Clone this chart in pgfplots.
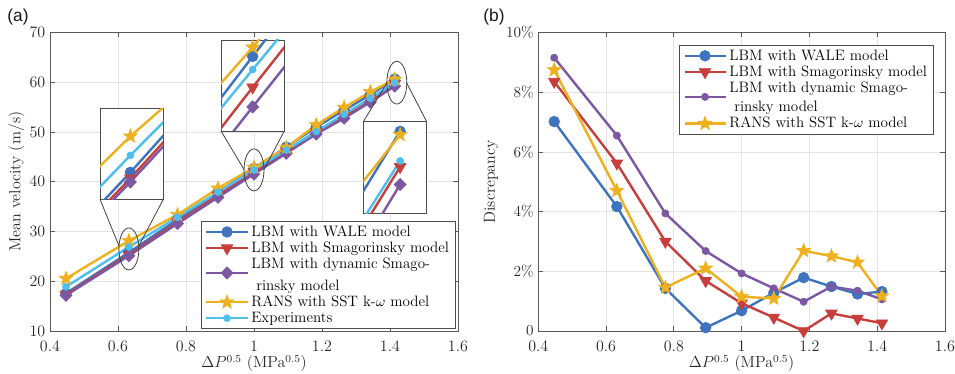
\documentclass[border=0pt]{standalone}
\usepackage{fontspec}
\newfontfamily\arialfont{Liberation Sans}
\usepackage{pgfplots}
\pgfplotsset{compat=1.18}
\usepackage{pgfplotstable}

\definecolor{cwale}{RGB}{62,116,190}
\definecolor{csmag}{RGB}{200,62,60}
\definecolor{cdyn}{RGB}{125,88,162}
\definecolor{crans}{RGB}{237,177,32}
\definecolor{cexp}{RGB}{77,190,238}

\newcommand\ticfont{\fontsize{11.5}{13.8}\selectfont}
\newcommand\labfont{\fontsize{12}{14}\selectfont}
\newcommand\legfont{\fontsize{11.3}{12.8}\selectfont}

\pgfdeclareplotmark{fstar}{%
  \pgfpathmoveto{\pgfpointpolar{90}{\pgfplotmarksize}}%
  \pgfpathlineto{\pgfpointpolar{126}{0.42\pgfplotmarksize}}%
  \pgfpathlineto{\pgfpointpolar{162}{\pgfplotmarksize}}%
  \pgfpathlineto{\pgfpointpolar{198}{0.42\pgfplotmarksize}}%
  \pgfpathlineto{\pgfpointpolar{234}{\pgfplotmarksize}}%
  \pgfpathlineto{\pgfpointpolar{270}{0.42\pgfplotmarksize}}%
  \pgfpathlineto{\pgfpointpolar{306}{\pgfplotmarksize}}%
  \pgfpathlineto{\pgfpointpolar{342}{0.42\pgfplotmarksize}}%
  \pgfpathlineto{\pgfpointpolar{18}{\pgfplotmarksize}}%
  \pgfpathlineto{\pgfpointpolar{54}{0.42\pgfplotmarksize}}%
  \pgfpathclose
  \pgfusepathqfillstroke
}

\pgfplotstableread{
x     wale  smag  dyn   rans  exp
0.447 17.57 17.32 17.17 20.55 18.9
0.632 25.78 25.39 25.14 28.16 26.9
0.775 32.43 31.91 31.60 33.38 32.9
0.894 37.86 37.26 36.88 38.70 37.9
1.000 42.69 42.01 41.58 42.89 42.4
1.095 46.99 46.19 45.74 46.91 46.4
1.183 51.00 50.10 49.61 51.45 50.1
1.265 54.40 53.28 52.80 54.95 53.6
1.342 57.50 56.56 56.03 58.11 56.8
1.414 60.69 59.74 59.27 60.60 59.9
}\vel

\pgfplotstableread{
x     wale smag dyn  rans
0.447 7.02 8.36 9.16 8.75
0.632 4.17 5.62 6.55 4.70
0.775 1.43 3.00 3.94 1.46
0.894 0.11 1.68 2.68 2.10
1.000 0.68 0.93 1.93 1.15
1.095 1.28 0.45 1.43 1.09
1.183 1.79 0.00 0.98 2.69
1.265 1.49 0.59 1.49 2.51
1.342 1.24 0.42 1.35 2.30
1.414 1.32 0.26 1.06 1.17
}\disc

\pgfplotsset{
  swale/.style={color=cwale, line width=1.8pt, mark=*, mark size=4pt, mark options={solid, line width=0.5pt}},
  ssmag/.style={color=csmag, line width=1.8pt, mark=triangle*, mark size=5pt, mark options={solid, line width=0.5pt, rotate=180}},
  sdyn/.style={color=cdyn, line width=1.8pt, mark=diamond*, mark size=4.6pt, mark options={solid, line width=0.5pt, xscale=1.3}},
  sdyns/.style={color=cdyn, line width=1.8pt, mark=*, mark size=2.7pt, mark options={solid, line width=0.5pt}},
  srans/.style={color=crans, line width=1.8pt, mark=fstar, mark size=5.4pt, mark options={solid, line width=0.5pt}},
  sexp/.style={color=cexp, line width=1.8pt, mark=*, mark size=2.6pt, mark options={solid, line width=0.5pt}},
  lowimg/.style={legend image code/.code={\draw[mark repeat=2, mark phase=2, yshift=-6.6pt] plot coordinates {(0pt,0pt) (15.4pt,0pt) (30.8pt,0pt)};}},
  base/.style={scale only axis, anchor=south west,
    axis line style={draw=black!65, line width=0.6pt},
    grid=major, grid style={draw=gray!22, line width=0.5pt},
    tick style={draw=black!65, line width=0.6pt}, major tick length=3.5pt, tick align=inside,
    ticklabel style={font=\ticfont, text=black!85},
    label style={font=\labfont, text=black!85},
    xticklabel style={/pgf/number format/fixed, yshift=-4pt},
    xlabel shift=-4pt,
    ylabel shift=-3pt,
    xmin=0.4, xmax=1.6, xtick={0.4,0.6,0.8,1,1.2,1.4,1.6},
    xlabel={$\Delta P^{0.5}$ (MPa$^{0.5}$)},
    legend cell align=left,
    legend image code/.code={\draw[mark repeat=2, mark phase=2] plot coordinates {(0pt,0pt) (15.4pt,0pt) (30.8pt,0pt)};},
  },
  inset/.style={scale only axis, anchor=south west, width=47.5pt, xtick=\empty, ytick=\empty,
    axis line style={draw=black!70, line width=0.7pt},
    axis background/.style={fill=white}},
}

\begin{document}
\begin{tikzpicture}
\path[use as bounding box] (0,0) rectangle (716.25pt,280.5pt);

% ---------- (a) ----------
\begin{axis}[base, at={(37.5pt,32.25pt)}, width=306pt, height=223.75pt,
  ymin=10, ymax=70, ytick={10,20,30,40,50,60,70},
  ylabel={Mean velocity (m/s)},
  legend style={at={(0.995,0.008)}, anchor=south east, draw=black!70, fill=white,
    font=\legfont, row sep=-1.4pt, inner xsep=3pt, inner ysep=1pt}]
\addplot[swale] table[x=x,y=wale]{\vel};
\addlegendentry{LBM with WALE model}
\addplot[ssmag] table[x=x,y=smag]{\vel};
\addlegendentry{LBM with Smagorinsky model}
\addplot[sdyn, lowimg] table[x=x,y=dyn]{\vel};
\addlegendentry{LBM with dynamic Smago-}
\addlegendimage{empty legend}
\addlegendentry{\ rinsky model}
\addplot[srans] table[x=x,y=rans]{\vel};
\addlegendentry{RANS with SST k-$\omega$ model}
\addplot[sexp] table[x=x,y=exp]{\vel};
\addlegendentry{Experiments}
\coordinate (e1) at (axis cs:0.632,26.5);
\coordinate (e2) at (axis cs:1.0,42.4);
\coordinate (e3) at (axis cs:1.42,59.94);
\end{axis}

\draw[black!75, line width=0.6pt] (e1) ellipse [x radius=7.5pt, y radius=15.75pt];
\draw[black!75, line width=0.6pt] (e2) ellipse [x radius=7.5pt, y radius=15.75pt];
\draw[black!75, line width=0.6pt] (e3) ellipse [x radius=7.5pt, y radius=16pt];
\draw[black!75, line width=0.6pt] (75pt,131pt) -- ([xshift=-7.3pt,yshift=2pt]e1);
\draw[black!75, line width=0.6pt] (122.5pt,131pt) -- ([xshift=7.3pt,yshift=2pt]e1);
\draw[black!75, line width=0.6pt] (165.75pt,182.25pt) -- ([xshift=-7.3pt]e2);
\draw[black!75, line width=0.6pt] (213.25pt,182.25pt) -- ([xshift=7.3pt]e2);
\draw[black!75, line width=0.6pt] (272.5pt,189.25pt) -- ([xshift=-7.3pt]e3);
\draw[black!75, line width=0.6pt] (320pt,189.25pt) -- ([xshift=7.3pt]e3);

% inset 1
\begin{axis}[inset, at={(75pt,131pt)}, height=68.25pt, xmin=0.584, xmax=0.684, ymin=24, ymax=30]
\addplot[swale] table[x=x,y=wale]{\vel};
\addplot[ssmag] table[x=x,y=smag]{\vel};
\addplot[sdyn] table[x=x,y=dyn]{\vel};
\addplot[srans] table[x=x,y=rans]{\vel};
\addplot[sexp] table[x=x,y=exp]{\vel};
\end{axis}
% inset 2
\begin{axis}[inset, at={(165.75pt,182.25pt)}, height=68.25pt, xmin=0.98, xmax=1.02, ymin=41.05, ymax=43.05]
\addplot[swale] table[x=x,y=wale]{\vel};
\addplot[ssmag] table[x=x,y=smag]{\vel};
\addplot[sdyn] table[x=x,y=dyn]{\vel};
\addplot[srans] table[x=x,y=rans]{\vel};
\addplot[sexp] table[x=x,y=exp]{\vel};
\end{axis}
% inset 3
\begin{axis}[inset, at={(272.5pt,120.5pt)}, height=68.75pt, xmin=1.378, xmax=1.44, ymin=58.5, ymax=60.95]
\addplot[swale] table[x=x,y=wale]{\vel};
\addplot[ssmag] table[x=x,y=smag]{\vel};
\addplot[sdyn] table[x=x,y=dyn]{\vel};
\addplot[srans] table[x=x,y=rans]{\vel};
\addplot[sexp] table[x=x,y=exp]{\vel};
\end{axis}

% ---------- (b) ----------
\begin{axis}[base, at={(403.7pt,32.25pt)}, width=305pt, height=223.75pt,
  ymin=0, ymax=10, ytick={0,2,4,6,8,10}, yticklabels={0,2\%,4\%,6\%,8\%,10\%},
  ylabel={Discrepancy}, ylabel shift=-1pt,
  legend style={at={(0.973,0.958)}, anchor=north east, draw=black!70, fill=white,
    font=\legfont, row sep=-1.4pt, inner xsep=3pt, inner ysep=1pt}]
\addplot[swale] table[x=x,y=wale]{\disc};
\addlegendentry{LBM with WALE model}
\addplot[ssmag] table[x=x,y=smag]{\disc};
\addlegendentry{LBM with Smagorinsky model}
\addplot[sdyns, lowimg] table[x=x,y=dyn]{\disc};
\addlegendentry{LBM with dynamic Smago-}
\addlegendimage{empty legend}
\addlegendentry{\ rinsky model}
\addplot[srans] table[x=x,y=rans]{\disc};
\addlegendentry{RANS with SST k-$\omega$ model}
\end{axis}

\node[font=\arialfont\fontsize{13}{15}\selectfont, text=black!90] at (13.5pt,267.5pt) {(a)};
\node[font=\arialfont\fontsize{13}{15}\selectfont, text=black!90] at (370.5pt,267.5pt) {(b)};
\end{tikzpicture}
\end{document}
